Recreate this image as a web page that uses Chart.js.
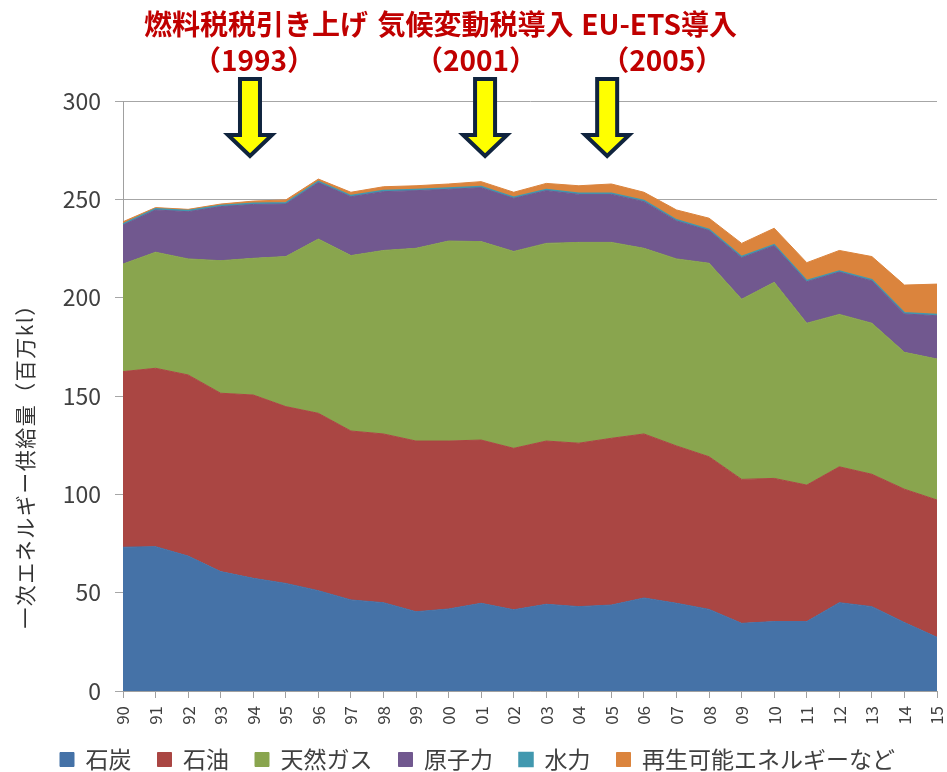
<!DOCTYPE html>
<html>
<head>
<meta charset="utf-8">
<script src="https://cdn.jsdelivr.net/npm/chart.js@4.4.1/dist/chart.umd.min.js"></script>
<style>
  html, body { margin: 0; padding: 0; background: #ffffff; }
  #wrap { width: 947px; height: 772px; }
</style>
</head>
<body>
<div id="wrap"><canvas id="c" width="947" height="772"></canvas></div>
<script>
// ---- data (百万kl) ----
const years = ['90','91','92','93','94','95','96','97','98','99','00','01','02','03','04','05','06','07','08','09','10','11','12','13','14','15'];
const coal    = [73.1,73.4,68.6,60.7,57.3,54.7,51.0,46.3,44.9,40.3,41.7,44.6,41.3,44.1,42.9,43.7,47.3,44.6,41.5,34.4,35.3,35.3,44.9,42.9,34.8,27.3];
const oil     = [89.3,90.7,92.1,90.7,93.2,89.9,90.2,85.9,85.8,86.8,85.4,83.0,82.1,83.0,83.1,84.8,83.4,80.0,77.6,73.2,72.8,69.4,69.1,67.3,67.8,69.8];
const gas     = [54.7,59.0,59.0,67.4,69.5,76.3,88.6,89.2,93.3,98.0,101.7,100.9,100.1,100.5,102.1,99.6,94.4,95.1,98.4,91.6,99.7,82.3,77.5,76.8,69.6,71.7];
const nuclear = [19.8,21.5,24.0,27.5,27.4,26.7,28.7,29.9,29.9,29.3,26.3,27.4,27.0,26.8,24.4,24.4,23.7,19.3,16.6,21.1,18.6,21.1,21.5,21.5,19.5,22.0];
const hydro   = [0.6,0.6,0.6,0.6,0.6,0.6,0.6,0.6,0.6,0.6,0.6,0.6,0.6,0.6,0.6,0.6,0.6,0.6,0.6,0.6,0.6,0.6,0.6,0.6,0.6,0.6];
const renew   = [1.1,0.6,0.6,0.7,1.1,1.5,1.2,1.7,1.9,1.9,2.1,2.5,2.5,3.1,3.8,4.7,4.2,5.0,5.7,6.7,8.3,9.1,10.4,11.8,14.1,15.5];
const seriesNames = ['石炭','石油','天然ガス','原子力','水力','再生可能エネルギーなど'];
const yTicks = [0, 50, 100, 150, 200, 250, 300];
const yTitle = '一次エネルギー供給量（百万kl）';
const events = [
  { line1: '燃料税税引き上げ', line2: '（1993）', at: 3.9,   dx1: 6,    dx2: 4 },
  { line1: '気候変動税導入',   line2: '（2001）', at: 11.12, dx1: -9.5, dx2: -9 },
  { line1: 'EU-ETS導入',       line2: '（2005）', at: 14.87, dx1: 52,   dx2: 55 }
];

const colors = ['#4572A7','#AA4643','#89A54E','#71588F','#4198AF','#DB843D'];
const values = [coal, oil, gas, nuclear, hydro, renew];
const FONT = '"Noto Sans CJK JP", "Noto Sans", sans-serif';

const datasets = values.map((v, i) => ({
  label: seriesNames[i],
  data: v,
  backgroundColor: colors[i],
  borderColor: colors[i],
  borderWidth: i === 4 ? 1.5 : 1,
  pointRadius: 0,
  pointHoverRadius: 0,
  tension: 0,
  fill: i === 0 ? 'origin' : '-1'
}));

const legendFix = {
  id: 'legendFix',
  beforeInit(chart) {
    const lg = chart.legend;
    if (lg) {
      const origFit = lg.fit.bind(lg);
      lg.fit = function () { origFit(); this.height = 772 - 727; };
      const origDraw = lg.draw.bind(lg);
      lg.draw = function () {
        const t = this.top, l = this.left, r = this.right;
        this.top = t - 5; this.left = l + 9; this.right = r + 9;
        origDraw();
        this.top = t; this.left = l; this.right = r;
      };
    }
  }
};

const annot = {
  id: 'annot',
  afterDraw(chart) {
    const ctx = chart.ctx;
    const xs = chart.scales.x;
    const ys = chart.scales.y;
    ctx.save();
    ctx.save();
    ctx.translate(25, (ys.top + ys.bottom) / 2 + 65);
    ctx.rotate(-Math.PI / 2);
    ctx.fillStyle = '#333333';
    ctx.font = '21px ' + FONT;
    if ('letterSpacing' in ctx) ctx.letterSpacing = '1.5px';
    ctx.textAlign = 'center';
    ctx.textBaseline = 'middle';
    ctx.fillText(yTitle, 0, 0);
    ctx.restore();

    events.forEach(ev => {
      const cx = xs.getPixelForValue(ev.at);
      ctx.fillStyle = '#C00000';
      ctx.font = 'bold 28px ' + FONT;
      ctx.textAlign = 'center';
      ctx.textBaseline = 'middle';
      ctx.fillText(ev.line1, cx + ev.dx1, 24);
      ctx.fillText(ev.line2, cx + ev.dx2, 60);
      const top = 79, headY = 135, tip = 156, sw = 10, hw = 22;
      ctx.beginPath();
      ctx.moveTo(cx - sw, top);
      ctx.lineTo(cx + sw, top);
      ctx.lineTo(cx + sw, headY);
      ctx.lineTo(cx + hw, headY);
      ctx.lineTo(cx, tip);
      ctx.lineTo(cx - hw, headY);
      ctx.lineTo(cx - sw, headY);
      ctx.closePath();
      ctx.fillStyle = '#FFFF00';
      ctx.fill();
      ctx.lineWidth = 4;
      ctx.lineJoin = 'miter';
      ctx.strokeStyle = '#10243E';
      ctx.stroke();
    });
    ctx.restore();
  }
};

new Chart(document.getElementById('c'), {
  type: 'line',
  data: { labels: years, datasets },
  plugins: [legendFix, annot],
  options: {
    responsive: false,
    animation: false,
    events: [],
    layout: { padding: { top: 101, right: 10, bottom: 0, left: 0 } },
    plugins: {
      legend: {
        position: 'bottom',
        align: 'center',
        labels: {
          boxWidth: 14,
          boxHeight: 14,
          padding: 26,
          color: '#404040',
          font: { family: FONT, size: 23 }
        }
      },
      tooltip: { enabled: false },
      filler: { propagate: false }
    },
    scales: {
      x: {
        offset: false,
        grid: { display: true, drawOnChartArea: false, drawTicks: true, tickLength: 7, color: '#A0A0A0' },
        border: { color: '#A0A0A0' },
        ticks: {
          autoSkip: false,
          minRotation: 90,
          maxRotation: 90,
          padding: 8,
          color: '#404040',
          font: { family: FONT, size: 17 }
        },
        afterFit(scale) {
          scale.height = 36;
          scale.paddingLeft = 0;
          scale.paddingRight = 0;
        }
      },
      y: {
        stacked: true,
        min: 0,
        max: 300,
        afterBuildTicks(scale) { scale.ticks = yTicks.map(v => ({ value: v })); },
        grid: { color: '#A6A6A6', tickLength: 8, drawTicks: true },
        border: { color: '#A0A0A0' },
        ticks: {
          padding: 14,
          color: '#404040',
          font: { family: FONT, size: 23 }
        },
        title: { display: false, text: yTitle },
        afterFit(scale) { scale.width = 123; }
      }
    }
  }
});
</script>
</body>
</html>
